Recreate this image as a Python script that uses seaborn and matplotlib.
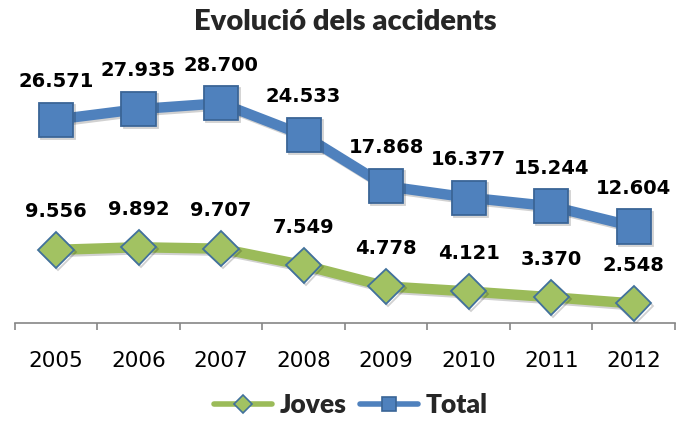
import matplotlib
matplotlib.use("Agg")
import matplotlib.pyplot as plt
import numpy as np
import pandas as pd
import seaborn as sns
from matplotlib.lines import Line2D
from matplotlib import patheffects as pe

# Accidents per year: young drivers and overall total
years = ["2005", "2006", "2007", "2008", "2009", "2010", "2011", "2012"]
joves = [9556, 9892, 9707, 7549, 4778, 4121, 3370, 2548]
total = [26571, 27935, 28700, 24533, 17868, 16377, 15244, 12604]

GREEN = "#9BBB59"
GREEN_FACE = "#A2C262"
GREEN_EDGE = "#41719C"
BLUE = "#4F81BD"
BLUE_EDGE = "#3A6596"
AXIS_GREY = "#868686"
HEAD_FONT = ["Lato", "DejaVu Sans"]

sns.set_theme(style="white")
plt.rcParams["font.family"] = ["DejaVu Sans"]

df = pd.DataFrame({"Any": years, "Joves": joves, "Total": total})

fig = plt.figure(figsize=(6.77, 4.21), dpi=100)
ax = fig.add_axes([14.7 / 677, 98 / 421, (675 - 14.7) / 677, 268 / 421])

shadow = [pe.SimpleLineShadow(offset=(1.5, -1.5), shadow_color="black", alpha=0.18),
          pe.Normal()]

sns.lineplot(data=df, x="Any", y="Joves", ax=ax, sort=False,
             color=GREEN, lw=7.5, marker="D", markersize=18,
             markerfacecolor=GREEN_FACE, markeredgecolor=GREEN_EDGE,
             markeredgewidth=1.3, solid_capstyle="butt", zorder=3,
             path_effects=shadow)
sns.lineplot(data=df, x="Any", y="Total", ax=ax, sort=False,
             color=BLUE, lw=7.5, marker="s", markersize=24.5,
             markerfacecolor=BLUE, markeredgecolor=BLUE_EDGE,
             markeredgewidth=1.3, solid_capstyle="butt", zorder=4,
             path_effects=shadow)

def fmt(v):
    return f"{v:,}".replace(",", ".")

for series in (joves, total):
    for yr, v in zip(years, series):
        ax.annotate(fmt(v), (yr, v), xytext=(0, 27.5), textcoords="offset points",
                    ha="center", va="center", fontsize=14, fontweight="bold",
                    color="black", zorder=6)

ax.set_ylim(0, 35000)
ax.set_xlim(-0.5, len(years) - 0.5)
ax.set_xlabel("")
ax.set_ylabel("")
ax.set_yticks([])
for side in ("left", "right", "top"):
    ax.spines[side].set_visible(False)
ax.spines["bottom"].set_color(AXIS_GREY)
ax.spines["bottom"].set_linewidth(1.2)

ax.set_xticks(range(len(years)))
ax.set_xticklabels(years, fontsize=15.5, color="black")
ax.set_xticks(np.arange(-0.5, len(years), 1), minor=True)
ax.tick_params(axis="x", which="major", length=0, pad=20)
ax.tick_params(axis="x", which="minor", length=5, width=1.2, color=AXIS_GREY,
               direction="out", bottom=True)

fig.text(345 / 677, 1 - 22 / 421, "Evolució dels accidents", ha="center",
         va="center", fontsize=21, fontweight="heavy", family=HEAD_FONT)

handles = [
    Line2D([], [], color=GREEN, lw=4, marker="D", markersize=9,
           markerfacecolor=GREEN_FACE, markeredgecolor=GREEN_EDGE, markeredgewidth=1.2),
    Line2D([], [], color=BLUE, lw=4, marker="s", markersize=10,
           markerfacecolor=BLUE, markeredgecolor=BLUE_EDGE, markeredgewidth=1.2),
]
fig.legend(handles, ["Joves", "Total"], loc="center", ncol=2,
           bbox_to_anchor=(351 / 677, 1 - 405 / 421), frameon=False,
           handlelength=2.2, handletextpad=0.3, columnspacing=0.5,
           prop={"family": HEAD_FONT, "weight": "heavy", "size": 19})

fig.savefig("out.png", dpi=100)
